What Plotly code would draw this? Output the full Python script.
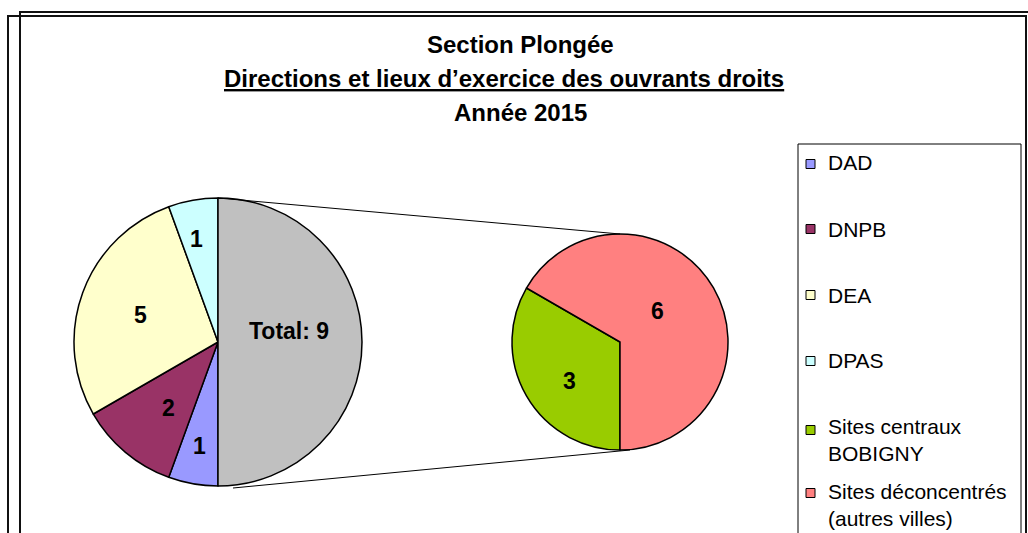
import math
import plotly.graph_objects as go

# Données 2015 : ouvrants droits par direction, puis détail par lieu d'exercice
directions = ["DAD", "DNPB", "DEA", "DPAS"]
direction_counts = [1, 2, 5, 1]
sites = ["Sites centraux BOBIGNY", "Sites déconcentrés (autres villes)"]
site_counts = [3, 6]
legend_labels = ["DAD", "DNPB", "DEA", "DPAS",
                 "Sites centraux<br>BOBIGNY",
                 "Sites déconcentrés<br>(autres villes)"]

direction_colors = ["#9999FF", "#993366", "#FFFFCC", "#CCFFFF"]
total_color = "#C0C0C0"
site_colors = ["#99CC00", "#FF8080"]

W, H = 1028, 533
FONT = "Liberation Sans, Arial, sans-serif"


def px(x):
    return x / W


def py(y):
    return 1 - y / H


# Géométrie des deux camemberts (pixels)
cxL, cyL, rL = 218, 342, 144
cxR, cyR, rR = 620, 342, 108
START = 180  # premier secteur à 6 heures, sens horaire

site_total = sum(site_counts)
left_labels = directions + ["Total"]
left_values = direction_counts + [site_total]
left_colors = direction_colors + [total_color]
left_text = [str(v) for v in direction_counts] + [f"Total: {site_total}"]
right_text = [str(v) for v in site_counts]

# Placement des étiquettes : fraction du rayon et décalage angulaire (degrés)
left_label_pos = [(0.73, 0), (0.57, -3), (0.57, -1), (0.73, -2), (0.5, -9)]
right_label_pos = [(0.59, -8), (0.45, -10)]

fig = go.Figure()

fig.add_trace(go.Pie(
    labels=left_labels, values=left_values, sort=False,
    direction="clockwise", rotation=START, textinfo="none",
    marker=dict(colors=left_colors, line=dict(color="black", width=1.5)),
    domain=dict(x=[px(cxL - rL), px(cxL + rL)], y=[py(cyL + rL), py(cyL - rL)]),
    showlegend=False, hoverinfo="label+value",
))

fig.add_trace(go.Pie(
    labels=sites, values=site_counts, sort=False,
    direction="clockwise", rotation=START, textinfo="none",
    marker=dict(colors=site_colors, line=dict(color="black", width=1.5)),
    domain=dict(x=[px(cxR - rR), px(cxR + rR)], y=[py(cyR + rR), py(cyR - rR)]),
    showlegend=False, hoverinfo="label+value",
))

annotations = []


def slice_labels(values, texts, positions, cx, cy, r):
    total = sum(values)
    acc = 0
    for v, t, (frac, dang) in zip(values, texts, positions):
        mid = START + (acc + v / 2) / total * 360 + dang
        acc += v
        a = math.radians(mid)
        x = cx + frac * r * math.sin(a)
        y = cy - frac * r * math.cos(a)
        annotations.append(dict(xref="paper", yref="paper", x=px(x), y=py(y),
                                xanchor="center", yanchor="middle", text=t,
                                showarrow=False,
                                font=dict(family=FONT, size=23, color="black",
                                          weight="bold")))


slice_labels(left_values, left_text, left_label_pos, cxL, cyL, rL)
slice_labels(site_counts, right_text, right_label_pos, cxR, cyR, rR)

shapes = []
# Cadres du graphique
frame = dict(color="#111111", width=2)
shapes.append(dict(type="rect", xref="paper", yref="paper",
                   x0=px(8), y0=py(560), x1=px(1026), y1=py(16), line=frame))
shapes.append(dict(type="rect", xref="paper", yref="paper",
                   x0=px(20), y0=py(560), x1=px(1040), y1=py(12), line=frame))

# Lignes de liaison entre la part "Total" et le camembert de détail
conn = dict(color="black", width=1)
shapes.append(dict(type="line", xref="paper", yref="paper",
                   x0=px(cxL), y0=py(cyL - rL), x1=px(cxR), y1=py(cyR - rR), line=conn))
shapes.append(dict(type="line", xref="paper", yref="paper",
                   x0=px(cxL + 15), y0=py(cyL + rL + 2), x1=px(cxR + 10), y1=py(cyR + rR), line=conn))

# Légende
shapes.append(dict(type="rect", xref="paper", yref="paper",
                   x0=px(798), y0=py(560), x1=px(1021), y1=py(144),
                   line=dict(color="black", width=1), fillcolor="white", layer="below"))

legend_colors = direction_colors + site_colors
marker_y = [164, 229, 295, 361, 430, 493]
text_y = [163, 229, 295, 360, 440, 505]
for lab, col, my, ty in zip(legend_labels, legend_colors, marker_y, text_y):
    shapes.append(dict(type="rect", xref="paper", yref="paper",
                       x0=px(806), y0=py(my + 4.5), x1=px(815), y1=py(my - 4.5),
                       fillcolor=col, line=dict(color="black", width=1)))
    annotations.append(dict(xref="paper", yref="paper", x=px(826), y=py(ty),
                            xanchor="left", yanchor="middle", align="left",
                            text=lab, showarrow=False,
                            font=dict(family=FONT, size=21, color="black")))

# Titre sur trois lignes
title_lines = [("Section Plongée", 520, 45),
               ("<u>Directions et lieux d’exercice des ouvrants droits</u>", 504, 79),
               ("Année 2015", 520, 112)]
for txt, x, y in title_lines:
    annotations.append(dict(xref="paper", yref="paper", x=px(x), y=py(y),
                            xanchor="center", yanchor="middle", text=txt, showarrow=False,
                            font=dict(family=FONT, size=24, color="black", weight="bold")))

fig.update_layout(
    width=W, height=H,
    margin=dict(l=0, r=0, t=0, b=0),
    paper_bgcolor="white", plot_bgcolor="white",
    shapes=shapes, annotations=annotations,
)

fig.write_html("out.html")
